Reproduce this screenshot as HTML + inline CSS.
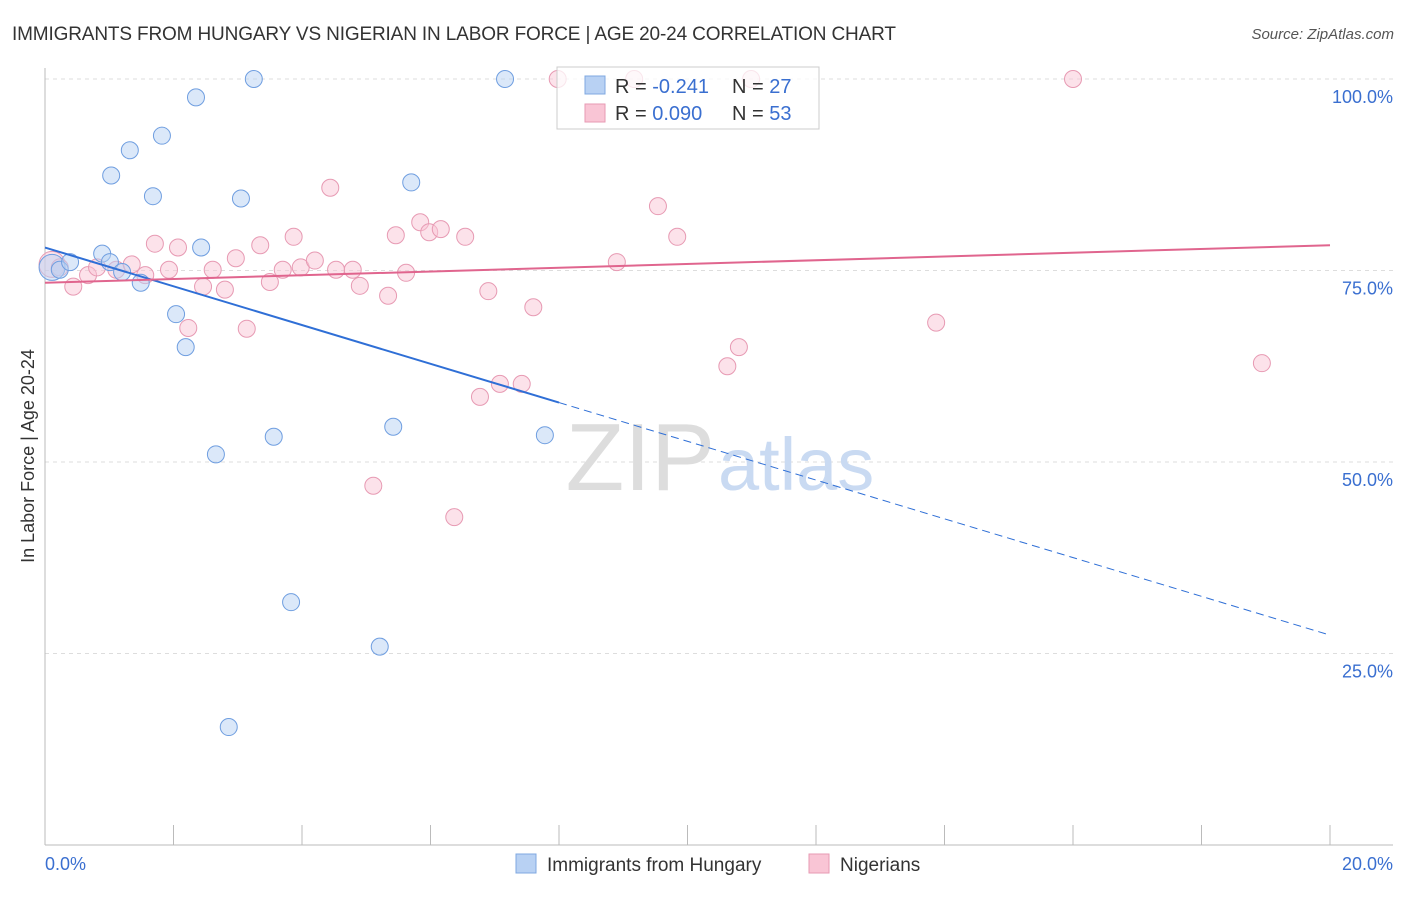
<!DOCTYPE html>
<html><head><meta charset="utf-8"><style>
body{margin:0;background:#fff;font-family:"Liberation Sans",sans-serif;}
svg text{font-family:"Liberation Sans",sans-serif;}
</style></head><body>
<svg width="1406" height="892" xmlns="http://www.w3.org/2000/svg">
<text x="12" y="40" font-size="19" fill="#333" textLength="884">IMMIGRANTS FROM HUNGARY VS NIGERIAN IN LABOR FORCE | AGE 20-24 CORRELATION CHART</text>
<text x="1394" y="39" font-size="15" fill="#555" font-style="italic" text-anchor="end">Source: ZipAtlas.com</text>
<g id="grid"></g>
<text x="715" y="490" font-size="96" fill="#ddd" text-anchor="end" font-family="Liberation Serif">ZIP</text>
<text x="718" y="490" font-size="74" fill="#c9daf2">atlas</text>
<line x1="45" y1="68" x2="45" y2="845" stroke="#bbb"/>
<line x1="45" y1="845" x2="1393" y2="845" stroke="#bbb"/>
<g id="ticks"></g>
<g id="ylabels"></g>
<text x="45" y="870" font-size="18" fill="#3a6fd0">0.0%</text>
<text x="1393" y="870" font-size="18" fill="#3a6fd0" text-anchor="end">20.0%</text>
<text transform="translate(34,456) rotate(-90)" font-size="18" fill="#333" text-anchor="middle">In Labor Force | Age 20-24</text>
<g id="pink"></g>
<g id="blue"></g>
<g id="trends"></g>
<g>
<rect x="557" y="67" width="262" height="62" fill="#fff" fill-opacity="0.75" stroke="#ccc"/>
<rect x="585" y="76" width="20" height="18" fill="#b8d1f3" stroke="#7fa8e0"/>
<rect x="585" y="104" width="20" height="18" fill="#f9c5d5" stroke="#e79ab3"/>
<text x="615" y="93" font-size="20" fill="#333">R = <tspan fill="#3a6fd0">-0.241</tspan></text>
<text x="732" y="93" font-size="20" fill="#333">N = <tspan fill="#3a6fd0">27</tspan></text>
<text x="615" y="120" font-size="20" fill="#333">R = <tspan fill="#3a6fd0"> 0.090</tspan></text>
<text x="732" y="120" font-size="20" fill="#333">N = <tspan fill="#3a6fd0">53</tspan></text>
</g>
<g>
<rect x="516" y="854" width="20" height="19" fill="#b8d1f3" stroke="#7fa8e0"/>
<text x="547" y="871" font-size="19" fill="#333">Immigrants from Hungary</text>
<rect x="809" y="854" width="20" height="19" fill="#f9c5d5" stroke="#e79ab3"/>
<text x="840" y="871" font-size="19" fill="#333">Nigerians</text>
</g>
</svg>
<script>
const yTicks=[25,50,75,100];
const yTickLabels=["25.0%","50.0%","75.0%","100.0%"];
const xTicks=[0,2,4,6,8,10,12,14,16,18,20];
const blueX=[0.11,0.23,0.39,0.89,1.01,1.03,1.2,1.32,1.49,1.68,1.82,2.04,2.19,2.35,2.43,2.66,2.86,3.05,3.25,3.56,3.83,5.21,5.42,5.7,7.16,7.78];
const blueY=[75.4,75.1,76.1,77.2,76.1,87.4,74.8,90.7,73.4,84.7,92.6,69.3,65.0,97.6,78.0,51.0,15.4,84.4,100,53.3,31.7,25.9,54.6,86.5,100,53.5];
const pinkX=[0.11,0.23,0.44,0.67,0.81,1.11,1.35,1.56,1.71,1.93,2.07,2.23,2.46,2.61,2.8,2.97,3.14,3.35,3.5,3.7,3.87,3.98,4.2,4.44,4.53,4.79,4.9,5.11,5.34,5.46,5.62,5.84,5.98,6.16,6.37,6.54,6.77,6.9,7.08,7.42,7.6,7.98,8.9,9.17,9.54,9.84,10.62,10.8,10.99,13.87,16.0,18.94];
const pinkY=[75.8,75.4,72.9,74.4,75.4,75.1,75.8,74.4,78.5,75.1,78.0,67.5,72.9,75.1,72.5,76.6,67.4,78.3,73.5,75.1,79.4,75.4,76.3,85.8,75.1,75.1,73.0,46.9,71.7,79.6,74.7,81.3,80.0,80.4,42.8,79.4,58.5,72.3,60.2,60.2,70.2,100,76.1,100,83.4,79.4,62.5,65.0,100,68.2,100,62.9];
const Y=v=>845-v*7.66, X=v=>45+v*64.25;
const NS="http://www.w3.org/2000/svg";
function mk(t,a,p){const e=document.createElementNS(NS,t);for(const k in a)e.setAttribute(k,a[k]);p.appendChild(e);return e;}
const grid=document.getElementById('grid'),yl=document.getElementById('ylabels');
yTicks.forEach((t,i)=>{const l=mk('line',{x1:45,x2:1393,y1:Y(t),y2:Y(t),stroke:'#ddd','stroke-dasharray':'4,4'},grid);


const tx=mk('text',{x:1393,y:Y(t)+24,'font-size':18,fill:'#3a6fd0','text-anchor':'end'},yl);tx.textContent=yTickLabels[i];

});
const tk=document.getElementById('ticks');
xTicks.forEach(t=>{const l=mk('line',{x1:X(t),x2:X(t),y1:825,y2:845,stroke:'#bbb'},tk);

});
function pts(xs,ys,g,fill,stroke,name){xs.forEach((x,i)=>{const r=i==0?13:8.5;const c=mk('circle',{cx:X(x),cy:Y(ys[i]),r:r,fill:fill,stroke:stroke,'stroke-width':1,'fill-opacity':0.5},document.getElementById(g));

});}
pts(pinkX,pinkY,'pink','#f9c5d5','#e79ab3','nigerian-point');
pts(blueX,blueY,'blue','#b8d1f3','#6f9ee0','hungary-point');
const tr=document.getElementById('trends');
const bl=(x)=>78.0-2.53*x, pl=(x)=>73.4+0.245*x;
let e=mk('line',{x1:X(0),y1:Y(bl(0)),x2:X(8),y2:Y(bl(8)),stroke:'#2f6fd6','stroke-width':2},tr);


e=mk('line',{x1:X(8),y1:Y(bl(8)),x2:X(20),y2:Y(bl(20)),stroke:'#2f6fd6','stroke-width':1,'stroke-dasharray':'8,5'},tr);


e=mk('line',{x1:X(0),y1:Y(pl(0)),x2:X(20),y2:Y(pl(20)),stroke:'#e0658e','stroke-width':2},tr);


</script>
</body></html>
